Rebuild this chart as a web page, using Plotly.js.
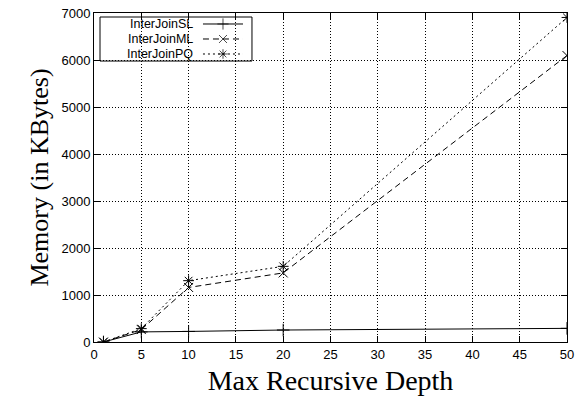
<!DOCTYPE html>
<html>
<head>
<meta charset="utf-8">
<script src="https://cdn.plot.ly/plotly-3.0.1.min.js"></script>
<style>html,body{margin:0;padding:0;background:#fff;}#chart{width:576px;height:404px;}</style>
</head>
<body>
<div id="chart"></div>
<script>
// Data
const depth = [1, 5, 10, 20, 50];
const seriesNames = ["InterJoinSL", "InterJoinML", "InterJoinPQ"];
const memSL = [0, 215, 225, 255, 290];
const memML = [0, 265, 1160, 1470, 6095];
const memPQ = [0, 285, 1305, 1610, 6905];
const xTickVals = [0, 5, 10, 15, 20, 25, 30, 35, 40, 45, 50];
const yTickVals = [0, 1000, 2000, 3000, 4000, 5000, 6000, 7000];

const styles = [
  {dash: "solid", symbol: "cross-thin-open"},
  {dash: "6px,4px", symbol: "x-thin-open"},
  {dash: "2px,3px", symbol: "asterisk-open"}
];
const seriesVals = [memSL, memML, memPQ];

const traces = seriesVals.map((vals, i) => ({
  type: "scatter", mode: "lines+markers", name: seriesNames[i],
  x: depth, y: vals, showlegend: false,
  line: {color: "#000", width: 1, dash: styles[i].dash},
  marker: {symbol: styles[i].symbol, size: 9, color: "#000", line: {color: "#000", width: 1}}
}));

// Legend samples (gnuplot style: text then sample) on an overlay axis in paper units
const legX0 = 0.2304, legX1 = 0.315, legXm = 0.2727, legTextX = 0.2115;
const legRows = [0.9666, 0.921, 0.8754];
const annotations = [];
seriesNames.forEach((nm, i) => {
  traces.push({
    type: "scatter", mode: "lines+markers", xaxis: "x2", yaxis: "y2", showlegend: false, hoverinfo: "skip",
    x: [legX0, legXm, legX1], y: [legRows[i], legRows[i], legRows[i]],
    line: {color: "#000", width: 1, dash: styles[i].dash},
    marker: {symbol: styles[i].symbol, size: [0, 8, 0], color: "#000", line: {color: "#000", width: 1}}
  });
  annotations.push({
    xref: "paper", yref: "paper", x: legTextX, y: legRows[i], xanchor: "right", yanchor: "middle",
    borderpad: 0,
    text: nm, showarrow: false, font: {family: "Liberation Sans, Arial, sans-serif", size: 12.5, color: "#000"}
  });
});

const tickFont = {family: "Liberation Sans, Arial, sans-serif", size: 13, color: "#000"};

const layout = {
  width: 576, height: 404,
  margin: {l: 94, r: 9, t: 13, b: 62},
  paper_bgcolor: "#fff", plot_bgcolor: "#fff",
  showlegend: false,
  xaxis: {
    range: [0, 50], tickvals: xTickVals, ticks: "inside", ticklen: 6, tickcolor: "#000",
    showline: true, linecolor: "#000", linewidth: 1, mirror: "ticks",
    showgrid: true, gridcolor: "#000", gridwidth: 1, griddash: "1px,2px",
    zeroline: false, tickfont: tickFont,
    title: {text: "Max Recursive Depth", font: {family: "Liberation Serif, Times New Roman, serif", size: 28, color: "#000"}, standoff: 9}
  },
  yaxis: {
    range: [0, 7000], tickvals: yTickVals, ticks: "inside", ticklen: 6, tickcolor: "#000",
    showline: true, linecolor: "#000", linewidth: 1, mirror: "ticks",
    showgrid: true, gridcolor: "#000", gridwidth: 1, griddash: "1px,2px",
    zeroline: false, tickfont: tickFont,
    title: {text: "Memory (in KBytes)", font: {family: "Liberation Serif, Times New Roman, serif", size: 26, color: "#000"}, standoff: 5}
  },
  xaxis2: {overlaying: "x", range: [0, 1], visible: false, fixedrange: true},
  yaxis2: {overlaying: "y", range: [0, 1], visible: false, fixedrange: true},
  shapes: [
    {type: "rect", xref: "paper", yref: "paper", x0: 0.0127, x1: 0.334, y0: 0.854, y1: 0.9878,
     line: {color: "#000", width: 1}, fillcolor: "#fff", layer: "below"}
  ],
  annotations: annotations
};

Plotly.newPlot("chart", traces, layout, {displayModeBar: false, staticPlot: true});
</script>
</body>
</html>
